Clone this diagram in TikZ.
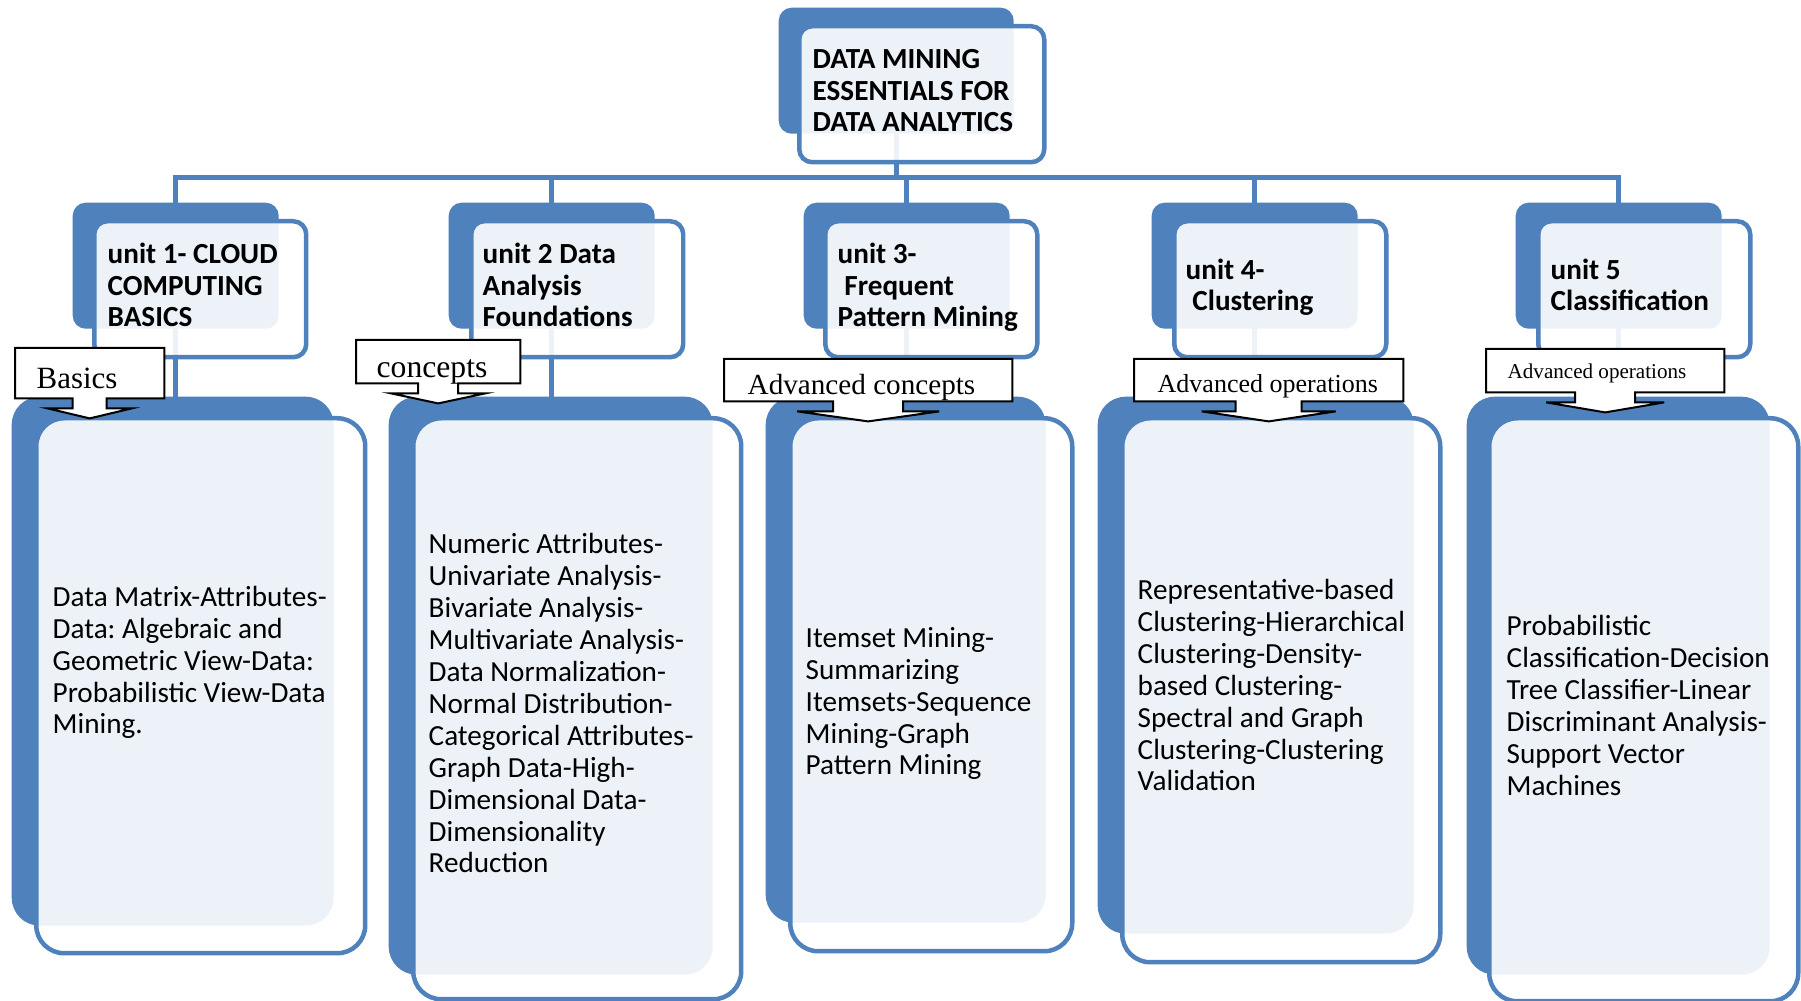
\documentclass[tikz,border=0pt]{standalone}
\usepackage{fontspec}
\setmainfont{Carlito}
\newfontfamily\callserif{Liberation Serif}
\usetikzlibrary{calc,backgrounds}
\definecolor{dmblue}{RGB}{79,129,189}
\frenchspacing

% white label box with a short arrow pointing down into the card below
\newcommand{\downcallout}[7]{%
  \draw[callline] (#1.north west) -- (#1.north east) -- (#1.south east)
    -- ($(#1.south)+(#2,0)$) -- ($(#1.south)+(#2,10)$) -- ($(#1.south)+(#3,10)$)
    -- ($(#1.south)+(0,20)$) -- ($(#1.south)+(-#3,10)$) -- ($(#1.south)+(-#2,10)$)
    -- ($(#1.south)+(-#2,0)$) -- (#1.south west) -- cycle;
  \begin{scope}
    \clip (#1.north west) rectangle (#1.south east);
    \node[calltext, font=\callserif\fontsize{#4}{#4}\selectfont] (#1t) at (#5,#6) {#7};
  \end{scope}}

\begin{document}
\begin{tikzpicture}[x=0.1mm,y=-0.1mm,
  backbox/.style={fill=dmblue, anchor=north west, inner sep=0pt, rounded corners=1.3mm},
  frontbox/.style={fill=white, fill opacity=0.9, draw=dmblue, line width=0.45mm,
    anchor=north west, inner sep=0pt, rounded corners=1.3mm},
  unitback/.style={backbox, minimum width=20.6mm, minimum height=12.6mm},
  unitfront/.style={frontbox, minimum width=21.2mm, minimum height=13.6mm},
  bigcorner/.style={rounded corners=2.8mm},
  headtext/.style={anchor=base west, align=left, inner sep=0pt,
    font=\bfseries\fontsize{8.3pt}{9.1pt}\selectfont},
  bodytext/.style={anchor=base west, align=left, inner sep=0pt,
    font=\fontsize{8.3pt}{9.1pt}\selectfont},
  link/.style={draw=dmblue, line width=0.5mm, line cap=rect},
  callbox/.style={anchor=north west, inner sep=0pt},
  callline/.style={draw=black, line width=0.2mm, fill=white},
  calltext/.style={anchor=base west, inner sep=0pt}]
\useasboundingbox (0,0) rectangle (1801,1001);

% title card (text placed by its last baseline)
\node[backbox, minimum width=23.5mm, minimum height=12.6mm] (tb) at (778,7) {};
\node[frontbox, minimum width=24.5mm, minimum height=13.6mm] (tf) at (797,24) {};
\node[headtext] (tt) at (812,132) {DATA MINING\\ESSENTIALS FOR\\DATA ANALYTICS};

% unit cards
\node[unitback] (ub1) at (72,202) {};
\node[unitfront] (uf1) at (92,219) {};
\node[headtext] (ut1) at (107,327) {unit 1- CLOUD\\COMPUTING\\BASICS};
\node[unitback] (ub2) at (448,202) {};
\node[unitfront] (uf2) at (469,219) {};
\node[headtext] (ut2) at (482,327) {unit 2 Data\\Analysis\\Foundations};
\node[unitback] (ub3) at (803,202) {};
\node[unitfront] (uf3) at (823,219) {};
\node[headtext] (ut3) at (837,327) {unit 3-\\\hspace*{0.23em}Frequent\\Pattern Mining};
\node[unitback] (ub4) at (1151,202) {};
\node[unitfront] (uf4) at (1172,219) {};
\node[headtext] (ut4) at (1185,311) {unit 4-\\\hspace*{0.23em}Clustering};
\node[unitback] (ub5) at (1515,202) {};
\node[unitfront] (uf5) at (1536,219) {};
\node[headtext] (ut5) at (1550,311) {unit 5\\Classification};

% content cards
\node[backbox, bigcorner, minimum width=32.2mm, minimum height=52.9mm] (cb1) at (11,396) {};
\node[frontbox, bigcorner, minimum width=32.9mm, minimum height=53.5mm] (cf1) at (34,416) {};
\node[bodytext] (ct1) at (52,734) {Data Matrix-Attributes-\\Data: Algebraic and\\Geometric View-Data:\\Probabilistic View-Data\\Mining.};
\node[backbox, bigcorner, minimum width=32.4mm, minimum height=57.8mm] (cb2) at (388,396) {};
\node[frontbox, bigcorner, minimum width=32.8mm, minimum height=58.1mm] (cf2) at (411,416) {};
\node[bodytext] (ct2) at (428,873) {Numeric Attributes-\\Univariate Analysis-\\Bivariate Analysis-\\Multivariate Analysis-\\Data Normalization-\\Normal Distribution-\\Categorical Attributes-\\Graph Data-High-\\Dimensional Data-\\Dimensionality\\Reduction};
\node[backbox, bigcorner, minimum width=28.0mm, minimum height=52.6mm] (cb3) at (765,396) {};
\node[frontbox, bigcorner, minimum width=28.2mm, minimum height=53.3mm] (cf3) at (788,416) {};
\node[bodytext] (ct3) at (805,775) {Itemset Mining-\\Summarizing\\Itemsets-Sequence\\Mining-Graph\\Pattern Mining};
\node[backbox, bigcorner, minimum width=31.6mm, minimum height=53.7mm] (cb4) at (1097,396) {};
\node[frontbox, bigcorner, minimum width=31.8mm, minimum height=54.4mm] (cf4) at (1120,416) {};
\node[bodytext] (ct4) at (1137,791) {Representative-based\\Clustering-Hierarchical\\Clustering-Density-\\based Clustering-\\Spectral and Graph\\Clustering-Clustering\\Validation};
\node[backbox, bigcorner, minimum width=30.3mm, minimum height=57.8mm] (cb5) at (1466,396) {};
\node[frontbox, bigcorner, minimum width=30.9mm, minimum height=58.3mm] (cf5) at (1487,416) {};
\node[bodytext] (ct5) at (1506,795) {Probabilistic\\Classification-Decision\\Tree Classifier-Linear\\Discriminant Analysis-\\Support Vector\\Machines};

% tree lines, behind the cards
\coordinate (bar) at (0,178);
\begin{pgfonlayer}{background}
\fill[white] (0,0) rectangle (1801,1001);
\draw[link] (tb.south) -- (tb.south |- bar);
\draw[link] (ub1 |- bar) -- (ub5 |- bar);
\foreach \i in {1,...,5}
  \draw[link] (ub\i |- bar) -- (ub\i |- cb\i.north);
\end{pgfonlayer}

% labels with arrows
\node[callbox, minimum width=14.8mm, minimum height=4.9mm] (lab1) at (15,348) {};
\downcallout{lab1}{17}{42}{8.8pt}{36}{389}{Basics}
\node[callbox, minimum width=16.3mm, minimum height=4.2mm] (lab2) at (356,340) {};
\downcallout{lab2}{20}{47}{9pt}{376}{378}{concepts}
\node[callbox, minimum width=28.7mm, minimum height=4.1mm] (lab3) at (724,359) {};
\downcallout{lab3}{35}{71}{8.3pt}{747}{395}{Advanced concepts}
\node[callbox, minimum width=26.8mm, minimum height=4.1mm] (lab4) at (1134,359) {};
\downcallout{lab4}{33}{67}{7.4pt}{1157}{393}{Advanced operations}
\node[callbox, minimum width=23.7mm, minimum height=4.2mm] (lab5) at (1486,349) {};
\downcallout{lab5}{30}{59}{6pt}{1507}{379}{Advanced operations}
\end{tikzpicture}
\end{document}
